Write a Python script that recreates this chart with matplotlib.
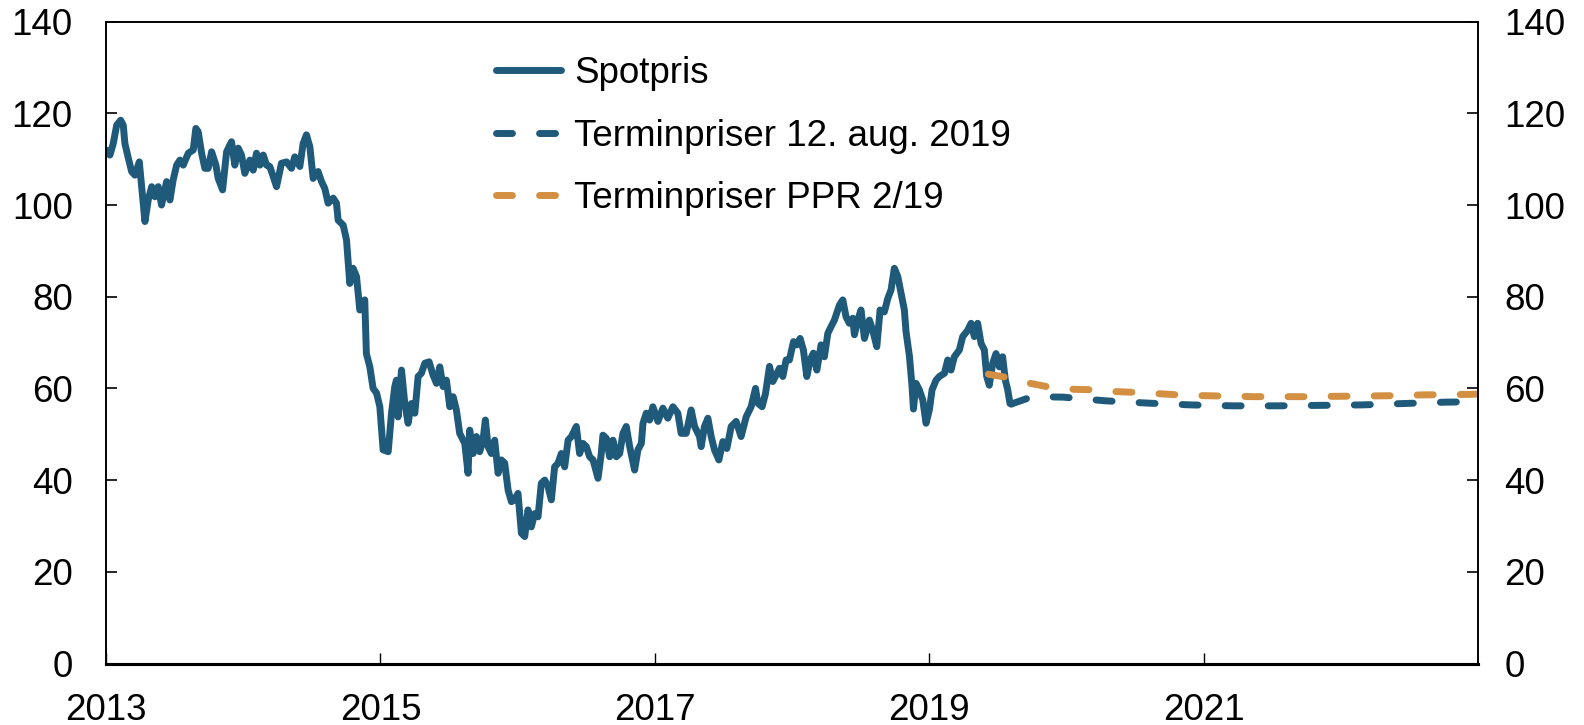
import matplotlib
matplotlib.use("Agg")
import matplotlib.pyplot as plt

plt.rcParams['font.family'] = ['Liberation Sans', 'DejaVu Sans']

# Spot price (Brent, USD per barrel), decimal years
spot_t = [
    2013.000, 2013.029, 2013.053, 2013.078, 2013.107, 2013.126, 2013.138, 2013.163, 2013.187, 2013.211,
    2013.243, 2013.260, 2013.284, 2013.308, 2013.333, 2013.357, 2013.381, 2013.405, 2013.442, 2013.466,
    2013.490, 2013.515, 2013.539, 2013.563, 2013.600, 2013.636, 2013.655, 2013.672, 2013.697, 2013.721,
    2013.745, 2013.770, 2013.801, 2013.818, 2013.850, 2013.879, 2013.915, 2013.939, 2013.964, 2013.988,
    2014.012, 2014.049, 2014.073, 2014.097, 2014.122, 2014.146, 2014.170, 2014.194, 2014.219, 2014.243,
    2014.279, 2014.316, 2014.352, 2014.376, 2014.413, 2014.437, 2014.461, 2014.486, 2014.510, 2014.546,
    2014.571, 2014.595, 2014.619, 2014.656, 2014.680, 2014.692, 2014.729, 2014.753, 2014.777, 2014.801,
    2014.826, 2014.850, 2014.886, 2014.898, 2014.923, 2014.947, 2014.972, 2014.996, 2015.020, 2015.057,
    2015.081, 2015.105, 2015.117, 2015.129, 2015.154, 2015.178, 2015.202, 2015.226, 2015.251, 2015.275,
    2015.299, 2015.324, 2015.355, 2015.384, 2015.409, 2015.433, 2015.457, 2015.481, 2015.506, 2015.530,
    2015.554, 2015.578, 2015.615, 2015.639, 2015.651, 2015.676, 2015.700, 2015.724, 2015.748, 2015.765,
    2015.785, 2015.809, 2015.833, 2015.858, 2015.882, 2015.906, 2015.931, 2015.955, 2015.979, 2016.003,
    2016.028, 2016.052, 2016.076, 2016.100, 2016.125, 2016.149, 2016.173, 2016.198, 2016.222, 2016.246,
    2016.270, 2016.295, 2016.319, 2016.343, 2016.368, 2016.392, 2016.428, 2016.452, 2016.477, 2016.501,
    2016.525, 2016.550, 2016.586, 2016.610, 2016.622, 2016.647, 2016.671, 2016.695, 2016.720, 2016.744,
    2016.768, 2016.792, 2016.817, 2016.853, 2016.877, 2016.902, 2016.914, 2016.938, 2016.962, 2016.986,
    2017.023, 2017.059, 2017.095, 2017.132, 2017.168, 2017.192, 2017.229, 2017.265, 2017.290, 2017.326,
    2017.338, 2017.362, 2017.387, 2017.411, 2017.435, 2017.467, 2017.496, 2017.525, 2017.557, 2017.593,
    2017.629, 2017.666, 2017.702, 2017.734, 2017.751, 2017.782, 2017.807, 2017.836, 2017.860, 2017.884,
    2017.909, 2017.933, 2017.957, 2017.981, 2018.011, 2018.035, 2018.059, 2018.083, 2018.108, 2018.132,
    2018.156, 2018.181, 2018.212, 2018.236, 2018.261, 2018.285, 2018.309, 2018.346, 2018.370, 2018.394,
    2018.418, 2018.443, 2018.455, 2018.479, 2018.503, 2018.528, 2018.564, 2018.588, 2018.618, 2018.642,
    2018.673, 2018.698, 2018.722, 2018.746, 2018.771, 2018.795, 2018.819, 2018.831, 2018.856, 2018.875,
    2018.885, 2018.904, 2018.928, 2018.953, 2018.977, 2019.001, 2019.021, 2019.050, 2019.074, 2019.111,
    2019.135, 2019.159, 2019.183, 2019.220, 2019.244, 2019.281, 2019.305, 2019.329, 2019.353, 2019.378,
    2019.402, 2019.419, 2019.438, 2019.463, 2019.487, 2019.511, 2019.535, 2019.555, 2019.572, 2019.589,
    2019.599,
]
spot = [
    112.0, 110.9, 113.4, 117.4, 118.5, 117.4, 113.4, 110.2, 107.3, 106.5,
    109.4, 104.0, 96.4, 101.1, 104.0, 101.8, 104.0, 100.0, 105.1, 101.1,
    105.5, 108.7, 109.8, 108.7, 111.3, 112.0, 116.7, 116.0, 111.3, 108.0,
    108.0, 111.6, 108.7, 105.8, 103.3, 111.6, 113.8, 108.7, 112.4, 110.9,
    106.9, 109.8, 107.6, 111.3, 108.7, 110.9, 108.7, 108.4, 106.2, 104.0,
    109.1, 109.4, 108.0, 110.5, 108.4, 113.4, 115.3, 112.7, 105.8, 107.3,
    105.1, 103.6, 100.4, 101.5, 100.4, 96.7, 95.6, 92.4, 82.9, 86.2,
    84.4, 77.1, 79.3, 67.6, 64.7, 60.0, 59.0, 56.0, 46.6, 46.2,
    54.6, 60.4, 61.8, 53.8, 64.0, 56.7, 52.4, 56.7, 54.6, 62.6,
    63.3, 65.5, 65.8, 62.9, 61.1, 64.7, 60.4, 61.8, 56.0, 58.2,
    55.3, 50.2, 48.0, 41.5, 50.9, 45.8, 49.5, 46.2, 48.7, 53.1,
    47.3, 45.8, 48.7, 41.5, 44.4, 43.7, 37.8, 35.3, 35.7, 37.1,
    28.4, 27.7, 33.5, 29.8, 32.7, 32.0, 39.3, 40.0, 38.6, 35.7,
    42.9, 43.7, 45.8, 42.9, 48.7, 49.5, 51.7, 45.8, 48.0, 47.3,
    45.1, 44.4, 40.4, 45.8, 49.8, 49.1, 45.1, 48.7, 45.1, 45.8,
    50.2, 51.7, 47.3, 42.2, 46.6, 48.0, 52.4, 54.6, 53.1, 56.0,
    52.8, 55.7, 53.5, 56.0, 54.6, 50.2, 50.2, 55.3, 51.7, 49.5,
    47.3, 51.7, 53.5, 49.5, 46.6, 44.4, 48.4, 46.9, 51.7, 52.8,
    49.5, 53.8, 56.0, 60.0, 56.8, 56.0, 58.9, 64.8, 61.5, 62.9,
    64.4, 62.6, 66.2, 66.2, 70.2, 69.5, 70.9, 68.4, 62.6, 66.2,
    67.7, 64.0, 69.5, 66.9, 72.0, 73.5, 74.9, 78.2, 79.3, 75.6,
    74.2, 75.3, 71.7, 74.9, 77.1, 70.9, 74.9, 72.7, 69.1, 77.1,
    76.7, 79.6, 81.5, 86.2, 84.4, 80.7, 77.1, 72.4, 67.0, 60.4,
    55.5, 61.1, 59.7, 57.5, 52.4, 55.3, 59.7, 61.8, 62.6, 63.3,
    66.2, 64.0, 66.9, 68.4, 71.3, 72.7, 74.2, 71.3, 74.2, 69.8,
    68.4, 62.6, 60.7, 65.5, 67.6, 64.7, 66.9, 61.8, 59.7, 56.7,
    56.6,
]

# Forward prices 12 Aug 2019
fwd_aug_t = [2019.599, 2019.752, 2019.975, 2020.282, 2020.589, 2020.910, 2021.216,
             2021.536, 2021.842, 2022.148, 2022.454, 2022.760, 2022.990]
fwd_aug = [56.6, 58.2, 58.1, 57.3, 56.8, 56.4, 56.2, 56.2, 56.3, 56.4, 56.7, 57.0, 57.1]

# Forward prices MPR 2/19
fwd_ppr_t = [2019.431, 2019.584, 2019.737, 2019.890, 2020.058, 2020.196, 2020.363, 2020.531,
             2020.699, 2020.866, 2021.030, 2021.370, 2021.700, 2022.040, 2022.340, 2022.620,
             2022.930, 2022.990]
fwd_ppr = [63.1, 62.3, 61.1, 60.2, 59.8, 59.7, 59.3, 59.1, 58.8, 58.5, 58.4, 58.2, 58.2,
           58.3, 58.4, 58.6, 58.7, 58.75]

year_ticks = [2013, 2015, 2017, 2019, 2021]
y_ticks = [0, 20, 40, 60, 80, 100, 120, 140]

blue = '#1f5a7a'
orange = '#d38f42'
lw = 5.0
dash = (0, (2.3, 3.9))

fig = plt.figure(figsize=(15.84, 7.25), dpi=100)
ax = fig.add_axes([0.0669, 0.0848, 0.8662, 0.8854])

ax.plot(spot_t, spot, color=blue, lw=lw, solid_joinstyle='round',
        solid_capstyle='round', label='Spotpris')
ax.plot(fwd_aug_t, fwd_aug, color=blue, lw=lw, ls=dash, dash_capstyle='round',
        label='Terminpriser 12. aug. 2019')
ax.plot(fwd_ppr_t, fwd_ppr, color=orange, lw=lw, ls=dash, dash_capstyle='round',
        label='Terminpriser PPR 2/19')

ax.set_xlim(2013, 2023)
ax.set_ylim(0, 140)
ax.set_xticks(year_ticks)
ax.set_xticklabels([str(y) for y in year_ticks])
ax.set_yticks(y_ticks)

ax2 = ax.twinx()
ax2.set_ylim(0, 140)
ax2.set_yticks(y_ticks)

for a in (ax, ax2):
    for s in a.spines.values():
        s.set_linewidth(1.2)
    a.spines['bottom'].set_linewidth(2.2)

ax.tick_params(axis='x', direction='in', length=8, width=1.0, labelsize=26.5, pad=21)
ax.tick_params(axis='y', direction='in', length=8, width=1.2, labelsize=26.5, pad=24)
ax2.tick_params(axis='y', direction='in', length=8, width=1.2, labelsize=26.5, pad=19)

ax.legend(loc='upper left', bbox_to_anchor=(0.2845, 0.946), frameon=False,
          fontsize=26.5, handlelength=1.75, handletextpad=0.36, labelspacing=0.74,
          borderpad=0, borderaxespad=0)

fig.savefig('out.png', dpi=100)
